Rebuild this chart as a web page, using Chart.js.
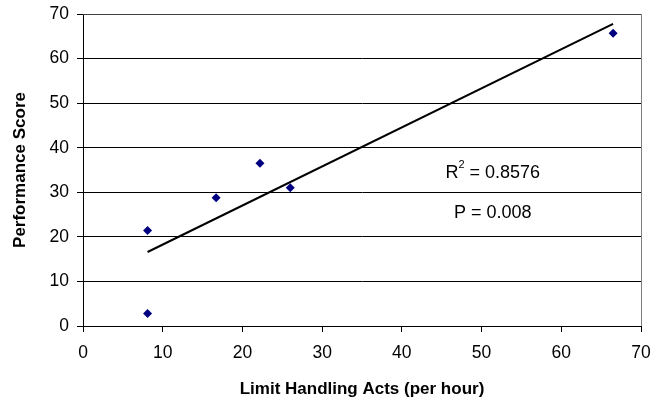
<!DOCTYPE html>
<html>
<head>
<meta charset="utf-8">
<script src="https://cdn.jsdelivr.net/npm/chart.js@4"></script>
<style>
    html, body { margin: 0; padding: 0; background: #fff; }
    #wrap { width: 652px; height: 401px; }
</style>
</head>
<body>
<div id="wrap"><canvas id="chart"></canvas></div>
<script>
// Data
const actsPerHour = [8.1, 8.1, 16.7, 22.2, 26.0, 66.5];
const perfScore = [21.4, 2.8, 28.8, 36.5, 31.0, 65.7];

// trend line end points
const trendX = [8.1, 66.5];
const trendY = [16.6, 67.8];

const rSquaredText = '0.8576';
const pValueText = 'P = 0.008';

const xTicks = [0, 10, 20, 30, 40, 50, 60, 70];
const yTicks = [0, 10, 20, 30, 40, 50, 60, 70];

const FONT = '"Liberation Sans", Arial, sans-serif';
Chart.defaults.font.family = FONT;
Chart.defaults.color = '#000';

// plot border + the R2 / P annotations
const extrasPlugin = {
    id: 'extras',
    afterDraw: (chart) => {
        const { ctx, chartArea, scales } = chart;
        ctx.save();
        ctx.lineWidth = 1;
        ctx.strokeStyle = '#808080';
        ctx.beginPath();
        ctx.moveTo(Math.round(chartArea.right) + 0.5, chartArea.top);
        ctx.lineTo(Math.round(chartArea.right) + 0.5, chartArea.bottom);
        ctx.stroke();
        ctx.strokeStyle = '#404040';
        ctx.beginPath();
        ctx.moveTo(chartArea.left, Math.round(chartArea.top) + 0.5);
        ctx.lineTo(chartArea.right, Math.round(chartArea.top) + 0.5);
        ctx.stroke();

        const cx = scales.x.getPixelForValue(51.4);
        const ry = scales.y.getPixelForValue(34.3);
        const py = scales.y.getPixelForValue(25.4);

        ctx.fillStyle = '#000';
        ctx.textBaseline = 'middle';
        ctx.textAlign = 'left';
        ctx.font = '18px ' + FONT;
        const main = ' = ' + rSquaredText;
        const wR = ctx.measureText('R').width;
        const wMain = ctx.measureText(main).width;
        ctx.font = '11px ' + FONT;
        const wSup = ctx.measureText('2').width;
        const x0 = cx - (wR + wSup + wMain) / 2;
        ctx.fillText('2', x0 + wR, ry - 8);
        ctx.font = '18px ' + FONT;
        ctx.fillText('R', x0, ry);
        ctx.fillText(main, x0 + wR + wSup, ry);

        ctx.textAlign = 'center';
        ctx.fillText(pValueText, cx, py);
        ctx.restore();
    }
};

const ctx = document.getElementById('chart');

new Chart(ctx, {
    type: 'scatter',
    data: {
        datasets: [
            {
                label: 'Performance',
                data: actsPerHour.map((x, i) => ({ x: x, y: perfScore[i] })),
                pointStyle: 'rectRot',
                pointRadius: 4.5,
                backgroundColor: '#000080',
                borderColor: '#000080',
                borderWidth: 0,
                order: 1
            },
            {
                label: 'Trend',
                data: trendX.map((x, i) => ({ x: x, y: trendY[i] })),
                showLine: true,
                pointRadius: 0,
                borderColor: '#000',
                borderWidth: 2,
                fill: false,
                order: 2
            }
        ]
    },
    options: {
        responsive: true,
        maintainAspectRatio: false,
        animation: false,
        layout: { padding: 0 },
        plugins: {
            legend: { display: false },
            tooltip: { enabled: false }
        },
        scales: {
            x: {
                type: 'linear',
                min: 0,
                max: 70,
                afterBuildTicks: (scale) => { scale.ticks = xTicks.map(v => ({ value: v })); },
                afterFit: (scale) => {
                    scale.height = 75;
                    scale.paddingRight = 11;
                },
                ticks: { font: { size: 17.5 }, color: '#000', padding: 11, maxRotation: 0 },
                grid: { drawOnChartArea: false, drawTicks: true, tickLength: 6, color: '#000' },
                border: { display: true, color: '#000', width: 1 },
                title: {
                    display: true,
                    text: 'Limit Handling Acts (per hour)',
                    font: { size: 17, weight: 'bold' },
                    color: '#000',
                    padding: { top: 0, bottom: 1 }
                }
            },
            y: {
                type: 'linear',
                min: 0,
                max: 70,
                afterBuildTicks: (scale) => { scale.ticks = yTicks.map(v => ({ value: v })); },
                afterFit: (scale) => {
                    scale.width = 83;
                    scale.paddingTop = 14;
                    scale.paddingBottom = 0;
                },
                ticks: { font: { size: 17.5 }, color: '#000', padding: 8 },
                grid: { color: '#000', lineWidth: 1, drawTicks: true, tickLength: 6 },
                border: { display: true, color: '#000', width: 1 },
                title: {
                    display: true,
                    text: 'Performance Score',
                    font: { size: 17, weight: 'bold' },
                    color: '#000',
                    padding: { top: 10, bottom: 0 }
                }
            }
        }
    },
    plugins: [extrasPlugin]
});
</script>
</body>
</html>
